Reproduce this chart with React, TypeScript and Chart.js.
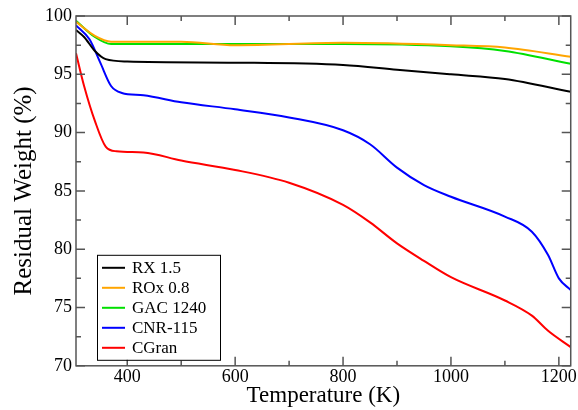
import { useEffect, useRef } from "react";
import Chart from "chart.js/auto";

const rxT = [305, 320, 340, 360, 400, 600, 800, 900, 1000, 1100, 1222];
const rxW = [98.8, 98.2, 97.0, 96.3, 96.1, 96.0, 95.8, 95.4, 95.0, 94.6, 93.5];
const roxT = [305, 340, 370, 500, 600, 800, 1000, 1100, 1222];
const roxW = [99.5, 98.3, 97.8, 97.8, 97.5, 97.7, 97.5, 97.3, 96.5];
const gacT = [305, 340, 370, 600, 800, 1000, 1100, 1222];
const gacW = [99.6, 98.2, 97.6, 97.6, 97.6, 97.4, 97.0, 95.9];
const cnrT = [305, 330, 350, 370, 390, 430, 500, 600, 700, 800, 850, 900, 950, 1000, 1100, 1150, 1180, 1200, 1222];
const cnrW = [99.2, 98.0, 96.0, 94.0, 93.4, 93.2, 92.6, 92.0, 91.3, 90.2, 89.0, 87.0, 85.5, 84.5, 82.8, 81.5, 79.5, 77.5, 76.5];
const cgT = [305, 320, 340, 360, 380, 430, 500, 600, 700, 800, 850, 900, 950, 1000, 1100, 1150, 1180, 1222];
const cgW = [96.8, 94.0, 91.0, 88.8, 88.4, 88.3, 87.6, 86.8, 85.7, 83.8, 82.3, 80.5, 79.0, 77.6, 75.6, 74.3, 73.0, 71.6];

const xTicks = [400, 500, 600, 700, 800, 900, 1000, 1100, 1200];
const yTicks = [70, 72.5, 75, 77.5, 80, 82.5, 85, 87.5, 90, 92.5, 95, 97.5, 100];

const names = ["RX 1.5", "ROx 0.8", "GAC 1240", "CNR-115", "CGran"];
const colors = ["#000000", "#ffa500", "#00e000", "#0000ff", "#ff0000"];
const series = [[rxT, rxW], [roxT, roxW], [gacT, gacW], [cnrT, cnrW], [cgT, cgW]];

const serif = "'Liberation Serif', 'Times New Roman', serif";

// frame with inward ticks, then the legend box
const overlay = {
  id: "overlay",
  afterDraw(chart: Chart) {
    const ctx = chart.ctx;
    const { left, right, top, bottom } = chart.chartArea;
    const sx = chart.scales.x, sy = chart.scales.y;
    ctx.save();
    ctx.strokeStyle = "#555";
    ctx.lineWidth = 1.5;
    ctx.strokeRect(left, top, right - left, bottom - top);
    for (const v of xTicks) {
      const x = sx.getPixelForValue(v);
      const len = v % 200 === 0 ? 9 : 5;
      ctx.beginPath();
      ctx.moveTo(x, bottom); ctx.lineTo(x, bottom - len);
      ctx.moveTo(x, top); ctx.lineTo(x, top + len);
      ctx.stroke();
    }
    for (const v of yTicks) {
      const y = sy.getPixelForValue(v);
      const len = v % 5 === 0 ? 9 : 5;
      ctx.beginPath();
      ctx.moveTo(left, y); ctx.lineTo(left + len, y);
      ctx.moveTo(right, y); ctx.lineTo(right - len, y);
      ctx.stroke();
    }

    const x0 = left + 21, y0 = bottom - 111, w = 123, h = 105;
    ctx.fillStyle = "#fff";
    ctx.fillRect(x0, y0, w, h);
    ctx.strokeStyle = "#000";
    ctx.lineWidth = 1;
    ctx.strokeRect(x0 + 0.5, y0 + 0.5, w, h);
    ctx.font = `17px ${serif}`;
    ctx.textBaseline = "middle";
    names.forEach((n, i) => {
      const y = y0 + 13 + i * 20;
      ctx.strokeStyle = colors[i];
      ctx.lineWidth = 2;
      ctx.beginPath();
      ctx.moveTo(x0 + 5, y);
      ctx.lineTo(x0 + 28, y);
      ctx.stroke();
      ctx.fillStyle = "#000";
      ctx.fillText(n, x0 + 35, y + 1);
    });
    ctx.restore();
  },
};

export default function App() {
  const ref = useRef<HTMLCanvasElement>(null);
  useEffect(() => {
    if (!ref.current) return;
    const chart = new Chart(ref.current, {
      type: "line",
      data: {
        datasets: series.map(([t, w], i) => ({
          label: names[i],
          data: t.map((x, j) => ({ x, y: w[j] })),
          borderColor: colors[i],
          borderWidth: 2,
          pointRadius: 0,
          cubicInterpolationMode: "monotone" as const,
        })),
      },
      options: {
        animation: false,
        responsive: false,
        layout: { padding: { left: 9, right: 6, top: 16, bottom: 0 } },
        plugins: { legend: { display: false }, tooltip: { enabled: false } },
        scales: {
          x: {
            type: "linear",
            min: 305,
            max: 1222,
            afterBuildTicks: (ax) => {
              ax.ticks = [400, 600, 800, 1000, 1200].map((v) => ({ value: v }));
            },
            ticks: { color: "#000", font: { family: serif, size: 18 }, padding: 1, maxRotation: 0, callback: (v) => String(v) },
            grid: { display: false, drawTicks: false },
            border: { display: false },
            title: { display: true, text: "Temperature (K)", color: "#000", font: { family: serif, size: 23 }, padding: { top: -7, bottom: 0 } },
          },
          y: {
            min: 70,
            max: 100,
            afterBuildTicks: (ax) => {
              ax.ticks = [70, 75, 80, 85, 90, 95, 100].map((v) => ({ value: v }));
            },
            ticks: { color: "#000", font: { family: serif, size: 18 }, padding: 4, callback: (v) => String(v) },
            grid: { display: false, drawTicks: false },
            border: { display: false },
            title: { display: true, text: "Residual Weight (%)", color: "#000", font: { family: serif, size: 25 }, padding: { top: 0, bottom: 2 } },
          },
        },
      },
      plugins: [overlay],
    });
    return () => chart.destroy();
  }, []);
  return (
    <div style={{ position: "absolute", left: 0, top: 0, width: 578, height: 410 }}>
      <canvas ref={ref} width={578} height={410} />
    </div>
  );
}
